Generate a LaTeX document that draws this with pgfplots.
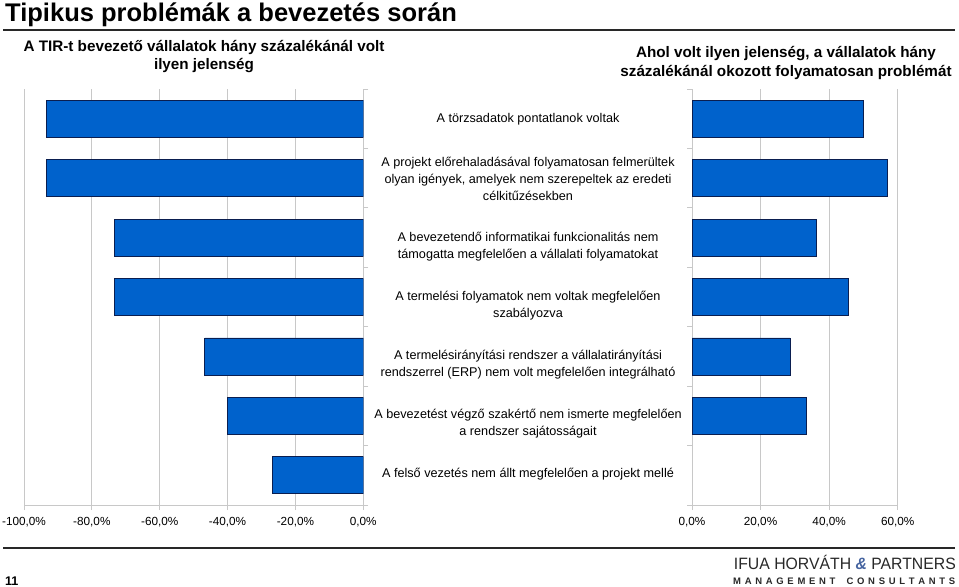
\documentclass[border=0pt]{standalone}
\usepackage{fontspec}
\setmainfont{Liberation Sans}
\usepackage{pgfplots}
\pgfplotsset{compat=1.18}
\definecolor{barblue}{RGB}{0,98,204}
\definecolor{baredge}{RGB}{10,30,80}
\definecolor{gridgray}{RGB}{200,200,200}
\definecolor{logoblue}{RGB}{70,100,160}
\definecolor{rulegray}{RGB}{40,40,40}

\pgfplotstableread{
y val
1 -93.3
2 -93.3
3 -73.3
4 -73.3
5 -46.7
6 -40.0
7 -26.7
}\lefttable
\pgfplotstableread{
y val
1 50.0
2 57.1
3 36.4
4 45.5
5 28.6
6 33.3
}\righttable

\pgfplotsset{
  mystyle/.style={
    scale only axis, height=416bp, ymin=0.5, ymax=7.5, y dir=reverse,
    ytick={0.5,1.5,2.5,3.5,4.5,5.5,6.5,7.5}, yticklabels={},
    xbar, bar width=37bp,
    xmajorgrids, grid style={gridgray, line width=0.8bp},
    axis line style={gridgray, line width=0.8bp, -},
    tick style={gridgray, line width=0.8bp},
    major tick length=5bp,
    tick align=outside,
    tick label style={font=\fontsize{11.8}{14}\selectfont, text=black},
    xticklabel style={yshift=-4bp},
  }
}

\begin{document}
\begin{tikzpicture}
\useasboundingbox (0,0) rectangle (959bp,-587bp);

% Title and rules
\node[anchor=base west, inner sep=0pt, font=\fontsize{25.6}{30}\selectfont\bfseries] at (5bp,-21bp) {Tipikus problémák a bevezetés során};
\draw[rulegray, line width=1.2bp] (3bp,-30bp) -- (955bp,-30bp);
\draw[rulegray, line width=1.2bp] (3bp,-548bp) -- (955bp,-548bp);

% Subtitles
\node[anchor=base, inner sep=0pt, font=\fontsize{15.3}{18}\selectfont\bfseries] at (204bp,-51bp) {A TIR-t bevezető vállalatok hány százalékánál volt};
\node[anchor=base, inner sep=0pt, font=\fontsize{15.3}{18}\selectfont\bfseries] at (204bp,-69bp) {ilyen jelenség};
\node[anchor=base, inner sep=0pt, font=\fontsize{15.3}{18}\selectfont\bfseries] at (786bp,-57bp) {Ahol volt ilyen jelenség, a vállalatok hány};
\node[anchor=base, inner sep=0pt, font=\fontsize{15.3}{18}\selectfont\bfseries] at (786bp,-76bp) {százalékánál okozott folyamatosan problémát};

% Left axis
\begin{axis}[mystyle, at={(24bp,-505bp)}, anchor=south west, width=339.3bp,
  xmin=-100, xmax=0, axis x line*=bottom, axis y line*=right,
  xtick={-100,-80,-60,-40,-20,0},
  xticklabels={{-100,0\%},{-80,0\%},{-60,0\%},{-40,0\%},{-20,0\%},{0,0\%}}]
\addplot[xbar, bar width=37bp, fill=barblue, draw=baredge, line width=0.8bp] table[x=val, y=y] {\lefttable};
\end{axis}

% Right axis
\begin{axis}[mystyle, at={(692bp,-505bp)}, anchor=south west, width=205.7bp,
  xmin=0, xmax=60, axis x line*=bottom, axis y line*=left,
  xtick={0,20,40,60},
  xticklabels={{0,0\%},{20,0\%},{40,0\%},{60,0\%}}]
\addplot[xbar, bar width=37bp, fill=barblue, draw=baredge, line width=0.8bp] table[x=val, y=y] {\righttable};
\end{axis}

% Category labels
\begin{scope}[every node/.style={align=center, inner sep=0pt, font=\fontsize{12.7}{17}\selectfont}]
\node at (528bp,-119bp) {A törzsadatok pontatlanok voltak};
\node at (528bp,-179bp) {A projekt előrehaladásával folyamatosan felmerültek\\olyan igények, amelyek nem szerepeltek az eredeti\\célkitűzésekben};
\node at (528bp,-247bp) {A bevezetendő informatikai funkcionalitás nem\\támogatta megfelelően a vállalati folyamatokat};
\node at (528bp,-306bp) {A termelési folyamatok nem voltak megfelelően\\szabályozva};
\node at (528bp,-365bp) {A termelésirányítási rendszer a vállalatirányítási\\rendszerrel (ERP) nem volt megfelelően integrálható};
\node at (528bp,-424bp) {A bevezetést végző szakértő nem ismerte megfelelően\\a rendszer sajátosságait};
\node at (528bp,-474bp) {A felső vezetés nem állt megfelelően a projekt mellé};
\end{scope}

% Footer
\node[anchor=base west, inner sep=0pt, font=\fontsize{12.6}{15}\selectfont\bfseries] at (5bp,-585bp) {11};
\node[anchor=base east, inner sep=0pt, font=\fontsize{16.5}{18}\selectfont, text=rulegray] at (956bp,-569bp) {\scalebox{0.96}[1]{IFUA HORVÁTH {\color{logoblue}\bfseries\itshape\&} PARTNERS}};
\node[anchor=base west, inner sep=0pt, font=\fontsize{9.5}{11}\selectfont\bfseries, text=rulegray] at (733bp,-584bp) {\makebox[222bp][s]{M\hfill A\hfill N\hfill A\hfill G\hfill E\hfill M\hfill E\hfill N\hfill T\hfill\hfill\hfill C\hfill O\hfill N\hfill S\hfill U\hfill L\hfill T\hfill A\hfill N\hfill T\hfill S}};
\end{tikzpicture}
\end{document}
